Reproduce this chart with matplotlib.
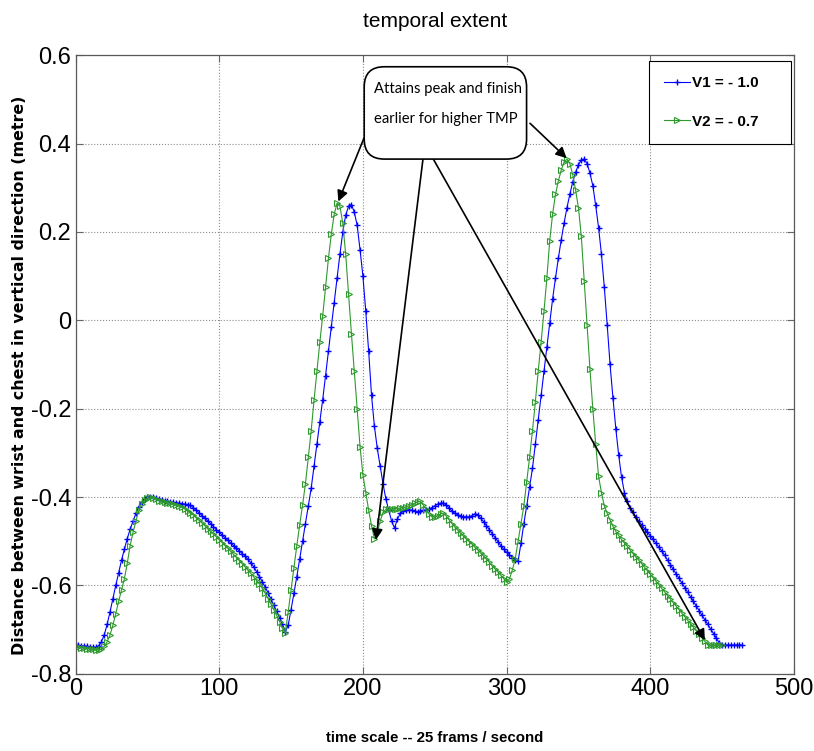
import numpy as np
import matplotlib
matplotlib.use("Agg")
import matplotlib.pyplot as plt
from matplotlib.patches import FancyBboxPatch

# frames sampled every 2 frames
frames_v1 = np.arange(0, 465, 2)
frames_v2 = np.arange(0, 451, 2)

# V1 = -1.0 (blue)
v1 = [
    -0.735, -0.736, -0.737, -0.737, -0.738, -0.739, -0.740, -0.740, -0.737, -0.728,
    -0.712, -0.688, -0.660, -0.630, -0.600, -0.572, -0.543, -0.518, -0.494, -0.473,
    -0.455, -0.437, -0.422, -0.412, -0.405, -0.401, -0.399, -0.400, -0.402, -0.404,
    -0.406, -0.408, -0.410, -0.411, -0.412, -0.413, -0.414, -0.415, -0.416, -0.417,
    -0.419, -0.424, -0.430, -0.436, -0.442, -0.448, -0.454, -0.460, -0.467, -0.474,
    -0.480, -0.486, -0.492, -0.498, -0.504, -0.510, -0.516, -0.522, -0.528, -0.534,
    -0.541, -0.549, -0.558, -0.569, -0.580, -0.592, -0.604, -0.617, -0.631, -0.645,
    -0.659, -0.673, -0.688, -0.705,
    -0.690, -0.655, -0.618, -0.580, -0.540, -0.500, -0.460, -0.420, -0.380, -0.330,
    -0.280, -0.230, -0.180, -0.125, -0.070, -0.015, 0.040, 0.095, 0.150, 0.200,
    0.238, 0.258, 0.262, 0.245, 0.215, 0.160, 0.100, 0.020, -0.070, -0.170,
    -0.240, -0.290, -0.330, -0.370, -0.405, -0.430, -0.455, -0.470, -0.450, -0.437,
    -0.432, -0.430, -0.429, -0.430, -0.432, -0.433, -0.432, -0.430, -0.430, -0.428,
    -0.424, -0.420, -0.416, -0.414, -0.414, -0.418, -0.425, -0.432, -0.437, -0.440,
    -0.443, -0.445, -0.445, -0.445, -0.442, -0.438, -0.440, -0.448, -0.456, -0.465,
    -0.474, -0.483, -0.492, -0.501, -0.510, -0.518, -0.525, -0.531, -0.537, -0.542,
    -0.545, -0.505, -0.460, -0.420, -0.378, -0.335, -0.280, -0.225, -0.170, -0.115,
    -0.060, -0.005, 0.048, 0.095, 0.140, 0.182, 0.220, 0.255, 0.285, 0.313,
    0.335, 0.352, 0.363, 0.365, 0.355, 0.333, 0.305, 0.260, 0.210, 0.150,
    0.075, -0.010, -0.100, -0.175, -0.245, -0.305, -0.355, -0.390, -0.410, -0.424,
    -0.435, -0.445, -0.455, -0.463, -0.472, -0.480, -0.488, -0.496, -0.505, -0.514,
    -0.522, -0.532, -0.543, -0.553, -0.564, -0.574, -0.584, -0.595, -0.605, -0.616,
    -0.626, -0.636, -0.647, -0.657, -0.668, -0.678, -0.688, -0.699, -0.709, -0.720,
    -0.730, -0.735, -0.735, -0.735, -0.735, -0.735, -0.735, -0.735, -0.735,
]

# V2 = -0.7 (green)
v2 = [
    -0.737, -0.739, -0.741, -0.742, -0.743, -0.744, -0.745, -0.746, -0.746, -0.744,
    -0.738, -0.728, -0.712, -0.690, -0.664, -0.636, -0.610, -0.585, -0.550, -0.510,
    -0.480, -0.455, -0.430, -0.415, -0.407, -0.402, -0.400, -0.402, -0.405, -0.408,
    -0.410, -0.412, -0.413, -0.414, -0.416, -0.418, -0.420, -0.423, -0.427, -0.431,
    -0.436, -0.441, -0.447, -0.453, -0.459, -0.465, -0.472, -0.478, -0.484, -0.490,
    -0.497, -0.503, -0.510, -0.516, -0.523, -0.530, -0.537, -0.544, -0.551, -0.558,
    -0.566, -0.573, -0.581, -0.589, -0.597, -0.607, -0.618, -0.630, -0.642, -0.655,
    -0.668, -0.682, -0.697, -0.708,
    -0.660, -0.610, -0.560, -0.510, -0.463, -0.418, -0.370, -0.310, -0.250, -0.180,
    -0.115, -0.050, 0.010, 0.075, 0.140, 0.195, 0.240, 0.265, 0.258, 0.220,
    0.150, 0.060, -0.030, -0.115, -0.200, -0.286, -0.350, -0.390, -0.430, -0.465,
    -0.495, -0.480, -0.455, -0.435, -0.428, -0.428, -0.428, -0.427, -0.426, -0.425,
    -0.424, -0.422, -0.420, -0.417, -0.414, -0.411, -0.410, -0.418, -0.428, -0.438,
    -0.445, -0.445, -0.442, -0.438, -0.437, -0.443, -0.452, -0.460, -0.468, -0.475,
    -0.482, -0.489, -0.495, -0.501, -0.507, -0.514, -0.520, -0.527, -0.534, -0.541,
    -0.548, -0.556, -0.563, -0.570, -0.577, -0.585, -0.592, -0.585, -0.565, -0.540,
    -0.500, -0.460, -0.420, -0.365, -0.310, -0.250, -0.185, -0.115, -0.050, 0.020,
    0.095, 0.180, 0.240, 0.285, 0.315, 0.340, 0.358, 0.365, 0.355, 0.330,
    0.295, 0.255, 0.190, 0.090, -0.010, -0.110, -0.200, -0.280, -0.353, -0.390,
    -0.420, -0.437, -0.452, -0.466, -0.478, -0.487, -0.496, -0.504, -0.512, -0.520,
    -0.528, -0.536, -0.543, -0.551, -0.559, -0.567, -0.575, -0.583, -0.591, -0.599,
    -0.607, -0.615, -0.623, -0.631, -0.639, -0.647, -0.655, -0.663, -0.671, -0.679,
    -0.687, -0.695, -0.703, -0.711, -0.719, -0.727, -0.735, -0.736, -0.736, -0.736,
    -0.736, -0.736,
]

xticks = [0, 100, 200, 300, 400, 500]
yticks = [-0.8, -0.6, -0.4, -0.2, 0, 0.2, 0.4, 0.6]
ytick_labels = ["-0.8", "-0.6", "-0.4", "-0.2", "0", "0.2", "0.4", "0.6"]

sans = ["Liberation Sans", "DejaVu Sans"]

fig = plt.figure(figsize=(8.14, 7.51), dpi=100)
ax = fig.add_axes([0.0928, 0.1029, 0.8826, 0.8235])

ax.plot(frames_v1, v1, color=(0.0, 0.0, 1.0), lw=0.8, marker="+", ms=5, mew=1.0,
        label="V1 = - 1.0")
ax.plot(frames_v2, v2, color=(0.18, 0.6, 0.18), lw=0.8, marker=">", ms=5, mew=0.8,
        mfc="none", label="V2 = - 0.7")

ax.set_xlim(0, 500)
ax.set_ylim(-0.8, 0.6)
ax.set_xticks(xticks)
ax.set_yticks(yticks)
ax.set_yticklabels(ytick_labels)
ax.tick_params(direction="in", length=5, top=True, right=True, pad=3, color="0.4")
for lab in ax.get_xticklabels() + ax.get_yticklabels():
    lab.set_family(sans)
    lab.set_fontsize(17)
ax.grid(True, linestyle=":", color="0.55", lw=0.8)
for sp in ax.spines.values():
    sp.set_color("0.35")
    sp.set_linewidth(0.9)

ax.set_title("temporal extent", family=sans, fontsize=15, pad=20)
ax.set_xlabel("time scale -- 25 frams / second", family=sans, fontsize=10.8,
              fontweight="bold")
ax.xaxis.set_label_coords(0.5, -0.092)
ax.set_ylabel("Distance between wrist and chest in vertical direction (metre)",
              family="DejaVu Sans", fontsize=11.4, fontweight="bold")
ax.yaxis.set_label_coords(-0.068, 0.483)

leg = ax.legend(loc="upper left", bbox_to_anchor=(0.798, 0.991, 0.198, 0.0),
                mode="expand", fancybox=False, edgecolor="black", framealpha=1,
                prop={"family": sans, "size": 11, "weight": "bold"},
                labelspacing=1.6, handlelength=1.7, handletextpad=0.15,
                borderpad=1.0, borderaxespad=0)
leg.get_frame().set_linewidth(0.8)

# callout box
box = FancyBboxPatch((200.9, 0.365), 113.0, 0.209,
                     boxstyle="round,pad=0,rounding_size=14",
                     mutation_aspect=0.003253, fc="white", ec="black", lw=1.2,
                     zorder=5)
ax.add_patch(box)
ax.text(207.8, 0.539, "Attains peak and finish\nearlier for higher TMP",
        ha="left", va="top", family=["Lato", "DejaVu Sans"], fontsize=10.6,
        linespacing=2.45, zorder=6)

arrows = [
    ((200.8, 0.413), (182.9, 0.269)),
    ((241.8, 0.365), (209.1, -0.497)),
    ((249.0, 0.365), (438.0, -0.724)),
    ((316.3, 0.446), (341.8, 0.367)),
]
for start, tip in arrows:
    ax.annotate("", xy=tip, xytext=start,
                arrowprops=dict(arrowstyle="-|>", color="black", lw=1.2,
                                mutation_scale=16, shrinkA=0, shrinkB=0),
                zorder=4)

fig.savefig("out.png", dpi=100)
